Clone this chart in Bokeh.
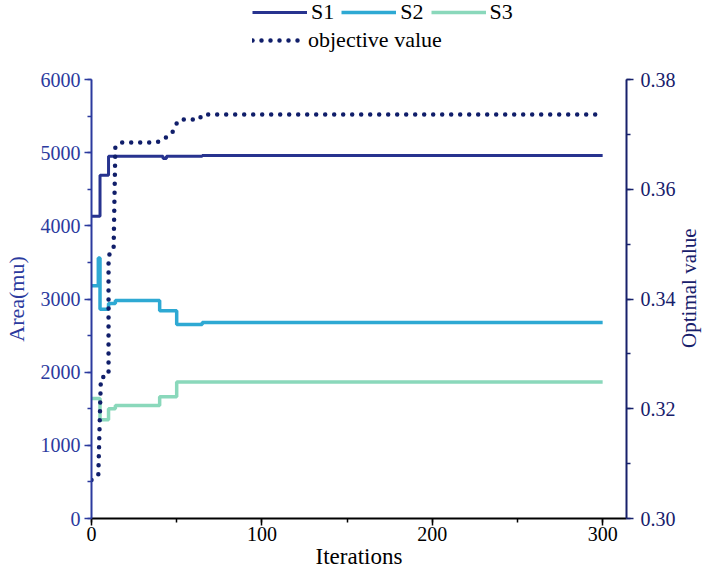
from bokeh.plotting import figure
from bokeh.layouts import column, row
from bokeh.models import (Range1d, LinearAxis, SingleIntervalTicker, Legend,
                          LegendItem, PrintfTickFormatter)
from bokeh.core.properties import value
from bokeh.embed import file_html
from bokeh.resources import INLINE

# ---- data ----
s1_iter = [0, 5, 10, 42, 44, 65, 300]
s1_area = [4130, 4690, 4950, 4920, 4950, 4960, 4960]

s2_iter = [0, 4, 5, 10, 14, 40, 50, 65, 300]
s2_area = [3180, 3560, 2860, 2940, 2980, 2840, 2650, 2680, 2680]

s3_iter = [0, 5, 10, 14, 40, 50, 300]
s3_area = [1640, 1350, 1500, 1545, 1665, 1865, 1865]

obj_iter = [0, 4, 5.5, 10, 10, 11.5, 13, 14, 18, 36, 40, 44, 47.5, 49.5, 52, 63, 65, 300]
obj_val = [0.3070, 0.3080, 0.3256, 0.3262, 0.3476, 0.3490, 0.3495, 0.3677, 0.3685,
           0.3685, 0.3687, 0.3695, 0.3704, 0.3718, 0.3727, 0.3727, 0.3736, 0.3736]

series_names = ["S1", "S2", "S3", "objective value"]
area_range = (0, 6000)
obj_range = (0.30, 0.38)

C_S1 = "#27338f"
C_S2 = "#2ea9d3"
C_S3 = "#8ad8bb"
C_OBJ = "#101e6a"
C_LEFT = "#2b3a9e"
C_RIGHT = "#17206b"
FONT = "Liberation Serif"

S1_STYLE = dict(line_color=C_S1, line_width=3)
S2_STYLE = dict(line_color=C_S2, line_width=3.5)
S3_STYLE = dict(line_color=C_S3, line_width=3.5)
OBJ_STYLE = dict(line_color=C_OBJ, line_width=4.5, line_dash="0 9", line_cap="round")

# layout geometry (pixels)
LEG_H = 67
MAIN_W, MAIN_H = 678, 504
TOP_B, BOT_B, LEFT_B = 12, 53, 91
FRAME_H = MAIN_H - TOP_B - BOT_B
LAB_W = 702 - MAIN_W

# ---------------- main plot ----------------
p = figure(width=MAIN_W, height=MAIN_H, output_backend="svg", toolbar_location=None,
           x_range=Range1d(0, 314), y_range=Range1d(*area_range),
           min_border_left=LEFT_B, min_border_right=MAIN_W - LEFT_B - 536,
           min_border_top=TOP_B, min_border_bottom=BOT_B)
p.outline_line_color = None
p.grid.visible = False
p.background_fill_color = "white"
p.border_fill_color = "white"
p.extra_y_ranges = {"obj": Range1d(*obj_range)}

p.step(s1_iter, s1_area, mode="after", **S1_STYLE)
p.step(s2_iter, s2_area, mode="after", **S2_STYLE)
p.step(s3_iter, s3_area, mode="after", **S3_STYLE)
p.line(obj_iter, obj_val, y_range_name="obj", **OBJ_STYLE)


def style_axis(ax, color, label_color):
    ax.axis_line_color = color
    ax.axis_line_width = 2
    ax.major_tick_line_color = color
    ax.minor_tick_line_color = color
    ax.major_tick_line_width = 1.5
    ax.minor_tick_line_width = 1.5
    ax.major_tick_in = 0
    ax.major_tick_out = 7
    ax.minor_tick_in = 0
    ax.minor_tick_out = 4
    ax.major_label_text_color = label_color
    ax.major_label_text_font = FONT
    ax.major_label_text_font_size = "20px"
    ax.axis_label_text_color = label_color
    ax.axis_label_text_font = FONT
    ax.axis_label_text_font_size = "22px"
    ax.axis_label_text_font_style = "normal"


xa = p.xaxis[0]
xa.ticker = SingleIntervalTicker(interval=100, num_minor_ticks=2)
xa.axis_label = "Iterations"
style_axis(xa, "black", "black")
xa.axis_label_text_font_size = "23px"
xa.major_label_standoff = 1
xa.axis_label_standoff = 0

ya = p.yaxis[0]
ya.ticker = SingleIntervalTicker(interval=1000, num_minor_ticks=2)
ya.axis_label = "Area(mu)"
style_axis(ya, C_LEFT, C_LEFT)
ya.major_label_standoff = 4
ya.axis_label_standoff = 9

ra = LinearAxis(y_range_name="obj",
                ticker=SingleIntervalTicker(interval=0.02, num_minor_ticks=2),
                formatter=PrintfTickFormatter(format="%.2f"))
style_axis(ra, C_RIGHT, C_RIGHT)
ra.major_label_standoff = 7
p.add_layout(ra, "right")

# ---------------- right axis title (reads bottom-to-top) ----------------
span = obj_range[1] - obj_range[0]
pr = figure(width=LAB_W, height=MAIN_H, output_backend="svg", toolbar_location=None,
            x_range=Range1d(0, 1),
            y_range=Range1d(obj_range[0] - span * BOT_B / FRAME_H,
                            obj_range[1] + span * TOP_B / FRAME_H),
            min_border=0)
pr.axis.visible = False
pr.grid.visible = False
pr.outline_line_color = None
pr.text(x=[0.42], y=[sum(obj_range) / 2 - span * 8 / FRAME_H], text=["Optimal value"],
        angle=1.5708, text_align="center", text_baseline="middle",
        text_color=C_RIGHT, text_font=value(FONT), text_font_size="21px")

# ---------------- legend strip ----------------
pl = figure(width=702, height=LEG_H, output_backend="svg", toolbar_location=None,
            x_range=Range1d(0, 314), y_range=Range1d(*area_range), min_border=0)
pl.axis.visible = False
pl.grid.visible = False
pl.outline_line_color = None
l1 = pl.step(s1_iter, s1_area, mode="after", visible=False, **S1_STYLE)
l2 = pl.step(s2_iter, s2_area, mode="after", visible=False, **S2_STYLE)
l3 = pl.step(s3_iter, s3_area, mode="after", visible=False, **S3_STYLE)
l4 = pl.line(obj_iter, obj_val, visible=False, **OBJ_STYLE)


def make_legend(items, loc):
    return Legend(items=items, location=loc, orientation="horizontal",
                  label_text_font=FONT, label_text_font_size="22px",
                  label_text_color="black", glyph_width=55, glyph_height=22,
                  label_height=22, label_standoff=4, spacing=7, padding=0,
                  margin=0, border_line_color=None, background_fill_alpha=0)


leg1 = make_legend([LegendItem(label=series_names[0], renderers=[l1]),
                    LegendItem(label=series_names[1], renderers=[l2]),
                    LegendItem(label=series_names[2], renderers=[l3])],
                   (252, LEG_H - 25))
leg2 = make_legend([LegendItem(label=series_names[3], renderers=[l4])],
                   (252, LEG_H - 53))
leg2.glyph_width = 52
pl.add_layout(leg1, "center")
pl.add_layout(leg2, "center")

layout = column(pl, row(p, pr, spacing=0), spacing=0)
open("out.html", "w").write(file_html(layout, INLINE))
